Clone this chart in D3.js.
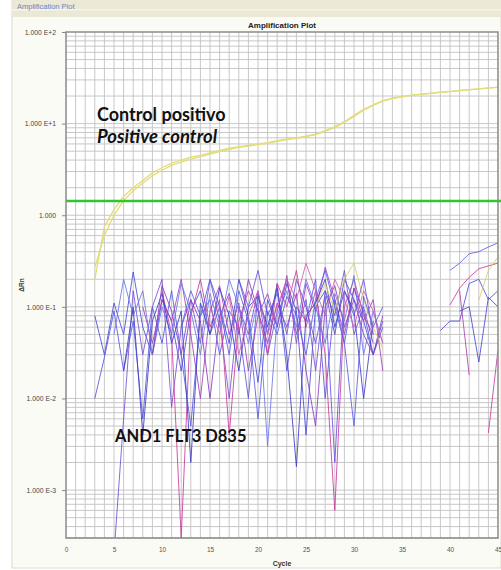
<!DOCTYPE html>
<html><head><meta charset="utf-8">
<script src="https://cdn.jsdelivr.net/npm/d3@7"></script>
<style>body{margin:0;background:#fff;}svg{display:block;}</style>
</head><body>
<svg id="c" width="501" height="570"></svg>
<script>
// ---- data ----
const xTicks = [0,5,10,15,20,25,30,35,40,45];
const yTicks = [100,10,1,0.1,0.01,0.001];
const yTickLabels = ["1.000 E+2","1.000 E+1","1.000","1.000 E-1","1.000 E-2","1.000 E-3"];
const threshold = 1.43;

// positive control (cycles 3..45)
const ctrlStart = 3;
const controlA = [0.2,0.75,1.15,1.6,2.0,2.4,2.9,3.3,3.7,4.0,4.3,4.5,4.8,5.1,5.4,5.6,5.8,6.0,6.2,6.5,6.8,7.0,7.3,7.7,8.4,9.3,10.5,12.3,14.3,16.0,17.8,19.0,19.8,20.5,21.0,21.5,22.0,22.5,23.0,23.5,24.0,24.5,25.0];
const controlB = [0.27,0.6,1.0,1.45,1.85,2.25,2.7,3.1,3.5,3.8,4.1,4.35,4.65,4.95,5.25,5.5,5.7,5.9,6.1,6.4,6.7,6.9,7.2,7.6,8.2,9.1,10.3,12.0,14.0,15.8,17.6,18.8,19.6,20.3,20.9,21.4,21.9,22.4,22.9,23.4,23.9,24.4,24.9];

// AND1 FLT3 D835 samples, noise (start cycle, values)
const n1 = [0.08,0.03,0.11,0.05,0.24,0.06,0.03,0.12,0.07,0.02,0.09,0.15,0.05,0.1,0.04,0.2,0.08,0.015,0.12,0.06,0.18,0.09,0.004,0.1,0.15,0.05,0.2,0.12,0.07,0.03,0.06];
const n2 = [0.01,0.028,0.09,0.02,0.07,0.006,0.1,0.04,0.15,0.03,0.005,0.08,0.12,0.03,0.09,0.06,0.01,0.14,0.05,0.18,0.02,0.1,0.07,0.2,0.01,0.12,0.04,0.16,0.09,0.03,0.07];
const n3 = [0.0002,0.006,0.15,0.03,0.1,0.2,0.008,0.06,0.12,0.04,0.2,0.07,0.01,0.1,0.05,0.15,0.03,0.09,0.2,0.05,0.12,0.02,0.15,0.08,0.25,0.05,0.1,0.04];
const n4 = [0.15,0.05,0.0003,0.08,0.2,0.06,0.12,0.004,0.07,0.15,0.09,0.03,0.18,0.1,0.25,0.06,0.15,0.03,0.0006,0.1,0.2,0.08,0.05];
const n5 = [0.1,0.04,0.12,0.07,0.2,0.05,0.01,0.09,0.17,0.05,0.11,0.02,0.08,0.14,0.06,0.22,0.04,0.18,0.09,0.27,0.12,0.05,0.16,0.07,0.12,0.02];
const n6 = [0.05,0.2,0.08,0.15,0.03,0.1,0.05,0.18,0.09,0.03,0.14,0.06,0.2,0.1,0.04,0.12,0.003,0.08,0.15,0.06,0.2,0.1,0.04,0.14,0.07,0.22,0.03,0.09,0.04];
const n7 = [0.02,0.1,0.004,0.07,0.14,0.04,0.09,0.002,0.11,0.05,0.16,0.08,0.02,0.1,0.13,0.06,0.16,0.03,0.0018,0.08,0.11,0.2,0.06,0.15,0.09,0.01,0.07];
const n8 = [0.03,0.17,0.09,0.03,0.12,0.07,0.01,0.08,0.14,0.05,0.2,0.09,0.04,0.11,0.06,0.14,0.02,0.005,0.1,0.17,0.06,0.12,0.05,0.03,0.08];
const n9 = [0.1,0.05,0.13,0.03,0.08,0.15,0.05,0.1,0.2,0.12,0.3,0.15,0.08,0.2,0.12,0.06,0.15,0.09,0.04];
const n10 = [0.1,0.18,0.09,0.2,0.3,0.12,0.06,0.035];
const n11 = [0.06,0.15,0.08,0.2,0.1,0.03,0.15,0.07,0.006,0.09,0.05,0.13,0.08,0.03,0.12,0.25,0.1,0.04,0.005,0.13,0.06,0.1];
const n12 = [0.2,0.1,0.25,0.08,0.14,0.05,0.2,0.1,0.04,0.13,0.002,0.15,0.08,0.2,0.05];
const r1 = [0.055,0.07,0.07,0.18,0.2,0.12,0.15];
const r2 = [0.25,0.3,0.38,0.4,0.45,0.5];
const r3 = [0.105,0.16,0.21,0.26,0.28,0.3];
const r4 = [0.09,0.1,0.025,0.127,0.1];
const r5 = [0.15,0.018];
const r6 = [0.0042,0.034];
const r7 = [0.118,0.25,0.35];

const series = [
  {start:3, v:n1, c:"#4a4ad8"},
  {start:3, v:n2, c:"#5656e2"},
  {start:5, v:n3, c:"#7650d4"},
  {start:10, v:n4, c:"#c83c9c"},
  {start:8, v:n5, c:"#a040b8"},
  {start:5, v:n6, c:"#6a78e8"},
  {start:6, v:n7, c:"#3c3cc8"},
  {start:9, v:n8, c:"#8a3cc0"},
  {start:15, v:n9, c:"#d060b0"},
  {start:26, v:n10, c:"#d8d060"},
  {start:12, v:n11, c:"#5a5ae6"},
  {start:18, v:n12, c:"#6a50e0"},
  {start:39, v:r1, c:"#5050d8"},
  {start:40, v:r2, c:"#6060e0"},
  {start:40, v:r3, c:"#c040a0"},
  {start:41, v:r4, c:"#4848d0"},
  {start:41, v:r5, c:"#b040b0"},
  {start:44, v:r6, c:"#c83c9c"},
  {start:43, v:r7, c:"#d8d060"}
];

// ---- layout ----
const svg = d3.select("#c");
const L = 66, R = 498, T = 32, B = 538;
const x = d3.scaleLinear().domain([0,45]).range([L,R]);
const y = d3.scaleLog().domain([0.0003,100]).range([B,T]);

// window chrome
svg.append("rect").attr("x",0).attr("y",0).attr("width",501).attr("height",570).attr("fill","#ffffff");
svg.append("rect").attr("x",12).attr("y",0).attr("width",489).attr("height",568).attr("fill","#fbfbf6").attr("stroke","#dcdccc");
svg.append("rect").attr("x",12).attr("y",0).attr("width",489).attr("height",17).attr("fill","#ebe8d6");
svg.append("rect").attr("x",12).attr("y",9).attr("width",489).attr("height",1.5).attr("fill","#f6f4ea");
svg.append("text").attr("x",17).attr("y",9).attr("font-family","Liberation Sans, Arial").attr("font-size",7.5)
  .attr("fill","#6a86c8").text("Amplification Plot");
svg.append("rect").attr("x",L).attr("y",T).attr("width",R-L).attr("height",B-T).attr("fill","#ffffff");

// grid
const g = svg.append("g");
const minor = [];
for (let e=-4; e<=1; e++) for (let m=1; m<=9; m++) { const v=m*Math.pow(10,e); if (v>=0.0003 && v<=100) minor.push(v); }
g.selectAll("line.h").data(minor).join("line").attr("x1",L).attr("x2",R)
  .attr("y1",d=>y(d)).attr("y2",d=>y(d)).attr("stroke","#c2c2c2").attr("stroke-width",0.9);
g.selectAll("line.v").data(d3.range(1,45)).join("line").attr("y1",T).attr("y2",B)
  .attr("x1",d=>x(d)).attr("x2",d=>x(d)).attr("stroke","#c2c2c2").attr("stroke-width",0.9);

// clip
svg.append("clipPath").attr("id","clip").append("rect").attr("x",L).attr("y",T).attr("width",R-L).attr("height",B-T);
const plot = svg.append("g").attr("clip-path","url(#clip)");

const line = d3.line().x(d=>x(d[0])).y(d=>y(d[1]));
series.forEach(s=>{
  const pts = s.v.map((v,i)=>[s.start+i, v]);
  plot.append("path").attr("d",line(pts)).attr("fill","none").attr("stroke",s.c)
    .attr("stroke-width",1).attr("opacity",0.85);
});
[controlA, controlB].forEach(arr=>{
  const pts = arr.map((v,i)=>[ctrlStart+i, v]);
  plot.append("path").attr("d",line(pts)).attr("fill","none").attr("stroke","#e2dc7a")
    .attr("stroke-width",1.3);
});
// threshold
svg.append("line").attr("x1",L).attr("x2",R+3).attr("y1",y(threshold)).attr("y2",y(threshold))
  .attr("stroke","#2ec82e").attr("stroke-width",2.5);

// frame
svg.append("rect").attr("x",L).attr("y",T).attr("width",R-L).attr("height",B-T).attr("fill","none")
  .attr("stroke","#8a8a8a").attr("stroke-width",1.5);

// axes
const yAxis = d3.axisLeft(y).tickValues(yTicks).tickSize(4).tickFormat((d,i)=>yTickLabels[i]);
const ya = svg.append("g").attr("transform",`translate(${L},0)`).call(yAxis);
ya.select(".domain").remove();
ya.selectAll("line").attr("stroke","#888");
ya.selectAll("text").attr("font-family","Liberation Sans, Arial").attr("font-size",6.8).attr("fill","#444").attr("dx",-3);
const xAxis = d3.axisBottom(x).tickValues(xTicks).tickSize(0).tickPadding(9);
const xa = svg.append("g").attr("transform",`translate(0,${B})`).call(xAxis);
xa.select(".domain").remove();
xa.selectAll("text").attr("font-family","Liberation Sans, Arial").attr("font-size",6.5).attr("fill","#555");

svg.append("text").attr("x",282).attr("y",28).attr("text-anchor","middle").attr("font-family","Liberation Sans, Arial")
  .attr("font-weight","bold").attr("font-size",8).attr("fill","#222").text("Amplification Plot");
svg.append("text").attr("x",282).attr("y",566).attr("text-anchor","middle").attr("font-family","Liberation Sans, Arial")
  .attr("font-weight","bold").attr("font-size",7).attr("fill","#333").text("Cycle");
svg.append("text").attr("transform","translate(24,285) rotate(-90)").attr("text-anchor","middle").attr("font-family","Liberation Sans, Arial")
  .attr("font-weight","bold").attr("font-size",6.5).attr("fill","#333").text("ΔRn");

// annotations
svg.append("text").attr("x",97).attr("y",121).attr("font-family","Lato, Open Sans, sans-serif").attr("font-weight","bold")
  .attr("font-size",18).attr("fill","#111").text("Control positivo");
svg.append("text").attr("x",97).attr("y",143).attr("font-family","Lato, Open Sans, sans-serif").attr("font-weight","bold")
  .attr("font-style","italic").attr("font-size",18.5).attr("fill","#111").text("Positive control");
svg.append("text").attr("x",115).attr("y",442).attr("font-family","Lato, Open Sans, sans-serif").attr("font-weight","bold")
  .attr("font-size",16.5).attr("fill","#111").text("AND1 FLT3 D835");
</script>
</body></html>
